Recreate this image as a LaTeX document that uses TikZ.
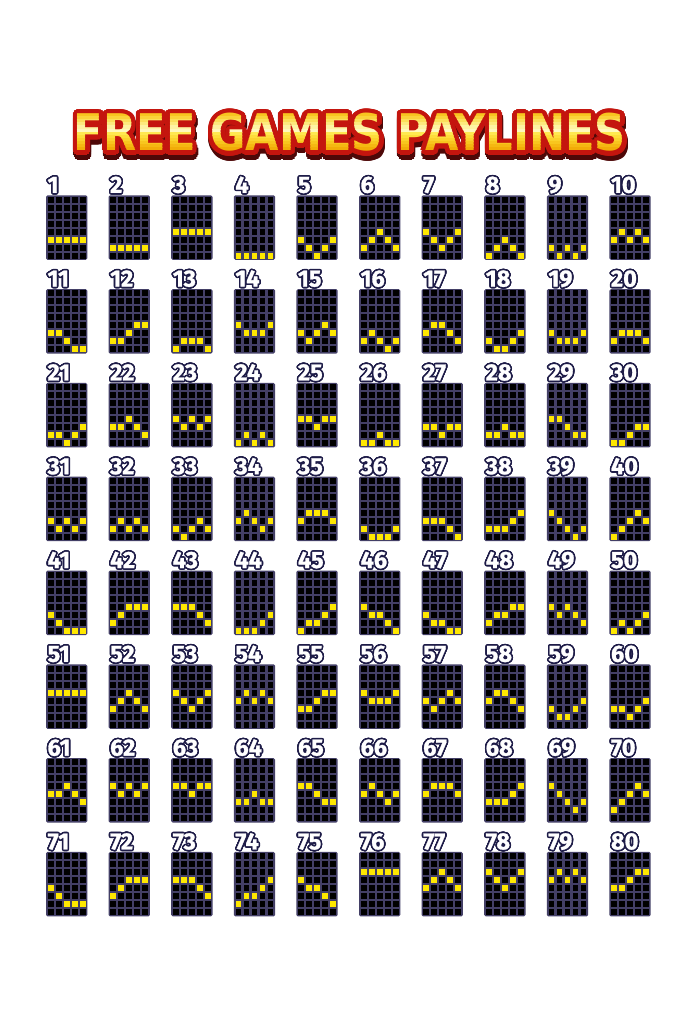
\documentclass[tikz,border=0pt]{standalone}
\usepackage{fontspec}
\newfontfamily\numfont{Fira Sans}[BoldFeatures={FakeBold=1.2}]
\newfontfamily\titlefont{DejaVu Sans}
\definecolor{gridc}{HTML}{433F66}
\definecolor{ylw}{HTML}{FFE800}
\definecolor{navy}{HTML}{1E1C48}
\definecolor{tred}{HTML}{C4150E}
\definecolor{tdark}{HTML}{4E0808}
\newcommand\ttltext{\resizebox{552pt}{37.5pt}{\titlefont\bfseries FREE GAMES PAYLINES}}
\begin{document}
\begin{tikzpicture}[x=1pt,y=1pt,
  ttl/.style={anchor=base,inner sep=0pt,outer sep=0pt},
  numlbl/.style={anchor=base west,inner sep=0pt,outer sep=0pt,font=\numfont\bfseries\fontsize{23.5}{23.5}\selectfont}]
\useasboundingbox (0,0) rectangle (700,-1024);
\fill[white] (0,0) rectangle (700,-1024);
% ---- title ----
\foreach \a [count=\k] in {0,15,...,345}
  \path (351,-155.5) ++(\a:5) node[ttl,text=tdark] (ts\k) {\ttltext};
\foreach \a [count=\k] in {0,15,...,345}
  \path (350,-151) ++(\a:4.5) node[ttl,text=tred] (tr\k) {\ttltext};
\foreach \a [count=\k] in {0,30,...,330}
  \path (350,-151) ++(\a:2.5) node[ttl,text=tred] (tq\k) {\ttltext};
\foreach \cc [count=\k from 0] in {F8C420,FAD23A,FCDF5A,FDEA7E,FEF3A2,FFF8BC,FFE850,FEDD3A,FBD22C,F8C61E,F5B812,F2AC08}{
  \begin{scope}
    \pgfmathsetmacro\yt{\k==0 ? -90 : -113.5-3.125*\k}
    \pgfmathsetmacro\yb{\k==11 ? -180 : -113.5-3.125*(\k+1)}
    \clip (0,\yt) rectangle (700,\yb);
    \definecolor{bandc}{HTML}{\cc}
    \node[ttl,text=bandc] (tb\k) at (350,-151) {\ttltext};
  \end{scope}
}
% ---- paylines ----
\foreach \n/\va/\vb/\vc/\vd/\ve in {
1/6/6/6/6/6, 2/7/7/7/7/7, 3/5/5/5/5/5, 4/8/8/8/8/8, 5/6/7/8/7/6,
6/7/6/5/6/7, 7/5/6/7/6/5, 8/8/7/6/7/8, 9/7/8/7/8/7, 10/6/5/6/5/6,
11/6/6/7/8/8, 12/7/7/6/5/5, 13/8/7/7/7/8, 14/5/6/6/6/5, 15/6/7/6/5/6,
16/7/6/7/8/7, 17/6/5/5/6/7, 18/7/8/8/7/6, 19/6/7/7/7/6, 20/7/6/6/6/7,
21/7/7/8/7/6, 22/6/6/5/6/7, 23/5/6/5/6/5, 24/8/7/8/7/8, 25/5/5/6/5/5,
26/8/8/7/8/8, 27/6/6/7/6/6, 28/7/7/6/7/7, 29/5/5/6/7/7, 30/8/8/7/6/6,
31/6/7/6/7/6, 32/7/6/7/6/7, 33/7/8/7/6/7, 34/6/5/6/7/6, 35/6/5/5/5/6,
36/7/8/8/8/7, 37/6/6/6/7/8, 38/7/7/7/6/5, 39/5/6/7/8/7, 40/8/7/6/5/6,
41/6/7/8/8/8, 42/7/6/5/5/5, 43/5/5/5/6/7, 44/8/8/8/7/6, 45/8/7/7/6/5,
46/5/6/6/7/8, 47/6/7/7/8/8, 48/7/6/6/5/5, 49/5/6/5/6/7, 50/8/7/8/7/6,
51/4/4/4/4/4, 52/6/5/4/5/6, 53/4/5/6/5/4, 54/5/4/5/4/5, 55/6/6/5/4/4,
56/4/5/5/5/4, 57/5/6/5/4/5, 58/5/4/4/5/6, 59/6/7/7/6/5, 60/6/6/7/6/5,
61/5/5/4/5/6, 62/4/5/4/5/4, 63/4/4/5/4/4, 64/6/6/5/6/6, 65/4/4/5/6/6,
66/5/4/5/6/5, 67/5/4/4/4/5, 68/6/6/6/5/4, 69/4/5/6/7/6, 70/7/6/5/4/5,
71/5/6/7/7/7, 72/6/5/4/4/4, 73/4/4/4/5/6, 74/7/6/6/5/4, 75/4/5/5/6/7,
76/3/3/3/3/3, 77/5/4/3/4/5, 78/3/4/5/4/3, 79/4/3/4/3/4, 80/5/5/4/3/3}{
  \pgfmathsetmacro\px{46+62.6*mod(\n-1,10)}
  \pgfmathsetmacro\py{-(195.3+93.8*floor((\n-1)/10))}
  \fill[gridc,rounded corners=1.5pt] (\px,\py) rectangle ++(41.3,-64.5);
  \foreach \i in {0,...,4}
    \foreach \j in {0,...,7}
      \fill[black] (\px+1.75+8*\i,\py-1.35-8*\j) rectangle ++(5.9,-5.9);
  \foreach \i/\v in {0/\va,1/\vb,2/\vc,3/\vd,4/\ve}
    \fill[ylw] (\px+1.75+8*\i,\py-1.35-8*\v+8) rectangle ++(5.9,-5.9);
  \pgfmathsetmacro\lx{\px+1.6}
  \pgfmathsetmacro\ly{\py+2.5}
  \foreach \a [count=\k] in {0,22.5,...,337.5}
    \path (\lx,\ly) ++(\a:1.6) node[numlbl,text=navy] (o\n-\k) {\n};
  \node[numlbl,text=white] (num\n) at (\lx,\ly) {\n};
}
\end{tikzpicture}
\end{document}
